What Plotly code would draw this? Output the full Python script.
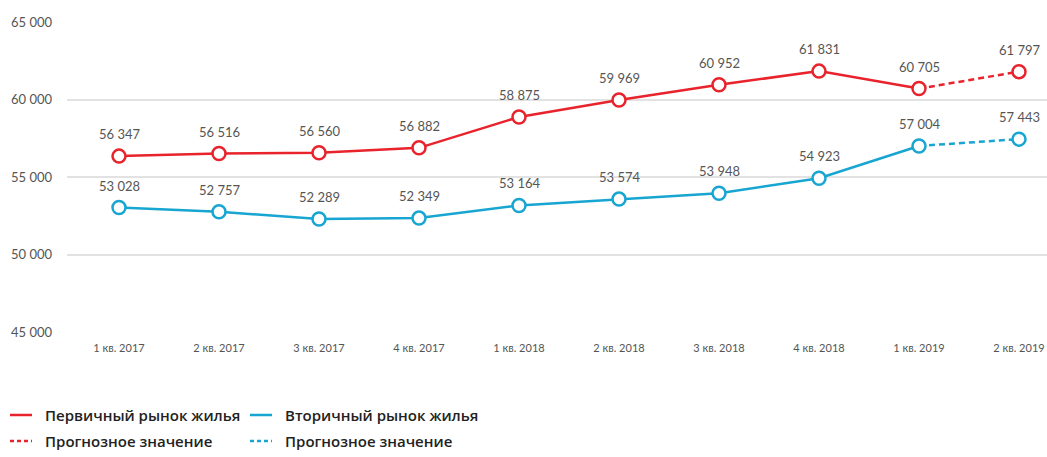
import plotly.graph_objects as go

quarters = ["1 кв. 2017", "2 кв. 2017", "3 кв. 2017", "4 кв. 2017", "1 кв. 2018",
            "2 кв. 2018", "3 кв. 2018", "4 кв. 2018", "1 кв. 2019", "2 кв. 2019"]
primary = [56347, 56516, 56560, 56882, 58875, 59969, 60952, 61831, 60705, 61797]
secondary = [53028, 52757, 52289, 52349, 53164, 53574, 53948, 54923, 57004, 57443]
n_actual = 9  # last quarter is a forecast

y_ticks = [45000, 50000, 55000, 60000, 65000]

RED = "#E8232C"
BLUE = "#17A5D1"
LABEL = "#555555"

legend_primary = "Первичный рынок жилья"
legend_secondary = "Вторичный рынок жилья"
legend_forecast = "Прогнозное значение"

fig = go.Figure()


def add_series(values, color):
    xs = list(range(len(values)))
    # forecast segment (dashed)
    fig.add_trace(go.Scatter(
        x=xs[n_actual - 1:], y=values[n_actual - 1:], mode="lines",
        line=dict(color=color, width=2.5, dash="6px,4px"),
        hoverinfo="skip", showlegend=False))
    # actual segment
    fig.add_trace(go.Scatter(
        x=xs[:n_actual], y=values[:n_actual], mode="lines",
        line=dict(color=color, width=2.5), showlegend=False))
    # markers
    fig.add_trace(go.Scatter(
        x=xs, y=values, mode="markers",
        marker=dict(symbol="circle", size=13, color="white",
                    line=dict(color=color, width=2.5)),
        showlegend=False))
    # value labels above each marker
    for x, v in zip(xs, values):
        fig.add_annotation(x=x, y=v, text=f"{v:,}".replace(",", " "),
                           showarrow=False, yanchor="bottom", yshift=12,
                           font=dict(family="Lato", size=13, color=LABEL))


add_series(primary, RED)
add_series(secondary, BLUE)

fig.update_layout(
    width=1047, height=457,
    margin=dict(l=67, r=0, t=22, b=125),
    paper_bgcolor="white", plot_bgcolor="white",
    separators=". ",
    xaxis=dict(
        tickmode="array", tickvals=list(range(len(quarters))), ticktext=quarters,
        range=[-0.52, 9.28], showgrid=False, zeroline=False, showline=False,
        ticks="", ticklabelstandoff=8,
        tickfont=dict(family="Lato", size=11, color=LABEL)),
    yaxis=dict(
        range=[45000, 65000], tickvals=y_ticks, tickformat=",d",
        showgrid=True, gridcolor="#E2E2E2", gridwidth=1.5, zeroline=False,
        showline=False, ticks="", ticklabelstandoff=14,
        tickfont=dict(family="Lato", size=13, color=LABEL)),
)

# Legend drawn manually in two columns
legend_font = dict(family="Open Sans", size=15, color="#222222", weight=600)
rows = [
    (10, 415, RED, "solid", legend_primary),
    (10, 441, RED, "4px,3px", legend_forecast),
    (250, 415, BLUE, "solid", legend_secondary),
    (250, 441, BLUE, "4px,3px", legend_forecast),
]
for x0, y0, color, dash, label in rows:
    yp = (332 - y0) / 310
    fig.add_shape(type="line", xref="paper", yref="paper",
                  x0=(x0 - 67) / 980, x1=(x0 + 22 - 67) / 980, y0=yp, y1=yp,
                  line=dict(color=color, width=2.5, dash=dash))
    fig.add_annotation(xref="paper", yref="paper",
                       x=(x0 + 33 - 67) / 980, y=yp,
                       xanchor="left", yanchor="middle", showarrow=False,
                       text=label, font=legend_font)

fig.write_html("out.html")
